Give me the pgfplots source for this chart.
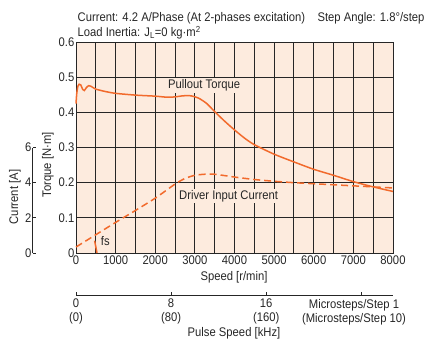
\documentclass[border=0pt]{standalone}
\usepackage{fontspec}
\setmainfont{Liberation Sans}[FakeStretch=0.9]
\usepackage{pgfplots}
\pgfplotsset{compat=1.18}
\definecolor{bgpeach}{HTML}{FDEBDE}
\definecolor{curve}{HTML}{F26A2C}
\definecolor{ink}{HTML}{262626}

\begin{document}
\begin{tikzpicture}[font=\fontsize{12.5}{13.5}\selectfont, text=ink]
\path[use as bounding box] (-76pt,-88pt) rectangle (351pt,253pt);
% main torque / speed axis
\begin{axis}[
  at={(0,0)}, anchor=south west,
  scale only axis, width=317pt, height=211pt,
  xmin=0, xmax=8000, ymin=0, ymax=0.6,
  xtick={0,1000,2000,3000,4000,5000,6000,7000,8000},
  ytick={0,0.1,0.2,0.3,0.4,0.5,0.6},
  yticklabels={0,0.1,0.2,0.3,0.4,0.5,0.6},
  minor x tick num=1,
  grid=both,
  major grid style={ink, line width=1pt},
  minor grid style={ink, line width=1pt},
  major tick length=0pt, minor tick length=0pt,
  axis background/.style={fill=bgpeach},
  axis line style={ink, line width=1pt},
  /pgf/number format/assume math mode=true,
  /pgf/number format/1000 sep={},
  xticklabel style={inner sep=2.5pt},
  yticklabel style={inner sep=1.5pt},
  clip=false,
]
\addplot[curve, line width=1.5pt, smooth, tension=0.4] coordinates {
  (0,0.425) (20,0.455) (50,0.475) (80,0.480) (120,0.478) (170,0.465)
  (210,0.462) (260,0.470) (320,0.476) (380,0.474) (500,0.466) (750,0.459)
  (1000,0.454) (1500,0.449) (2000,0.446) (2300,0.443) (2500,0.444)
  (2700,0.447) (2900,0.447) (3100,0.440) (3300,0.425) (3500,0.402)
  (3750,0.375) (4000,0.350) (4250,0.327) (4500,0.308) (5000,0.281)
  (5500,0.259) (6000,0.238) (6500,0.221) (7000,0.203) (7500,0.188)
  (8000,0.175)};
\addplot[curve, line width=1.5pt, dash pattern=on 7pt off 4pt, smooth, tension=0.4] coordinates {
  (0,0.017) (500,0.052) (1000,0.087) (1500,0.121) (2000,0.156) (2500,0.196)
  (2750,0.212) (3000,0.221) (3250,0.224) (3500,0.224) (4000,0.216)
  (4500,0.209) (5000,0.204) (5500,0.200) (6000,0.197) (6500,0.194)
  (7000,0.191) (7500,0.188) (8000,0.185)};
\addplot[curve, line width=1.5pt] coordinates {(470,0.035) (530,0)};
\node[fill=bgpeach, inner sep=1.5pt] at (axis cs:3233,0.477) {Pullout Torque};
\node[fill=bgpeach, inner sep=1.5pt] at (axis cs:3850,0.162) {Driver Input Current};
\node[fill=bgpeach, inner sep=1pt, anchor=west] at (axis cs:600,0.033) {fs};
\end{axis}
% current axis
\begin{axis}[
  at={(-43pt,0)}, anchor=south west,
  scale only axis, width=1pt, height=105.5pt,
  ymin=0, ymax=6, xmin=0, xmax=1,
  axis y line=left, hide x axis,
  y axis line style={-, ink, line width=1pt},
  ytick={0,2,4,6}, tick align=inside,
  major tick length=3pt, tick style={ink, line width=1pt},
  /pgf/number format/assume math mode=true,
  yticklabel style={inner sep=1.5pt},
]
\end{axis}
% pulse speed axis
\begin{axis}[
  at={(0,-42pt)}, anchor=south west,
  scale only axis, width=317pt, height=1pt,
  xmin=0, xmax=26.6667, ymin=0, ymax=1,
  axis x line=bottom, hide y axis,
  x axis line style={-, ink, line width=1pt},
  xtick={0,8,16,24},
  xticklabels={{0\\(0)},{8\\(80)},{16\\(160)},{}},
  xticklabel style={align=center, inner sep=1pt, yshift=-3pt},
  tick align=inside,
  major tick length=3pt, tick style={ink, line width=1pt},
]
\end{axis}
% labels
\node[rotate=90] at (-28pt,88pt) {Torque [N·m]};
\node[rotate=90] at (-61pt,56pt) {Current [A]};
\node at (158pt,-24pt) {Speed [r/min]};
\node at (158pt,-80.5pt) {Pulse Speed [kHz]};
\node[align=center] at (278pt,-59.5pt) {Microsteps/Step 1\\(Microsteps/Step 10)};
\node[anchor=base west, inner sep=0pt] at (1.5pt,232pt) {Current: 4.2 A/Phase (At 2-phases excitation)\quad Step Angle: 1.8°/step};
\node[anchor=base west, inner sep=0pt] at (1.5pt,216.5pt) {Load Inertia: J\textsubscript{L}=0 kg·m\textsuperscript{2}};
\end{tikzpicture}
\end{document}
